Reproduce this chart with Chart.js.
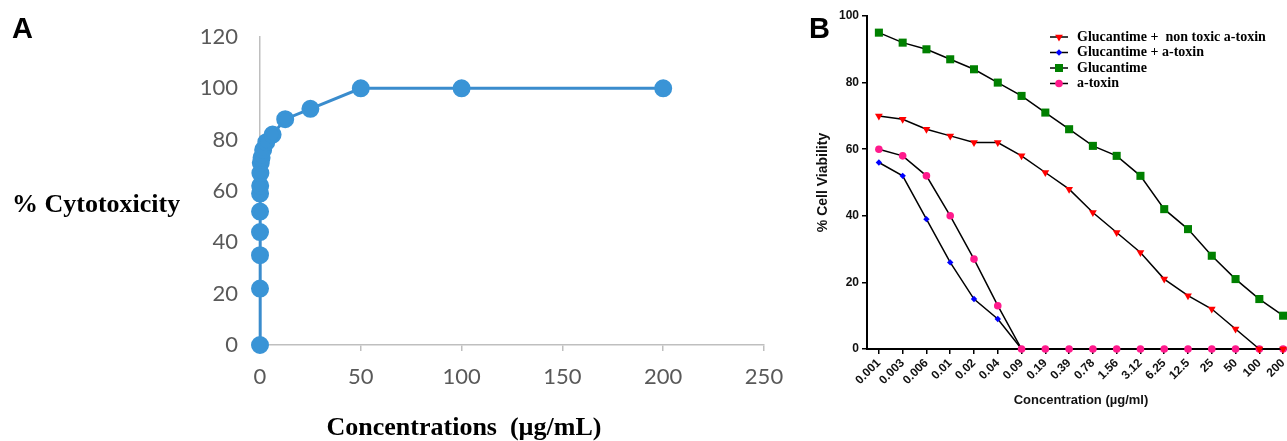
<!DOCTYPE html>
<html>
<head>
<meta charset="utf-8">
<script src="https://cdn.jsdelivr.net/npm/chart.js@4.4.1/dist/chart.umd.min.js"></script>
<style>
  html, body { margin: 0; padding: 0; background: #fff; overflow: hidden; width: 1287px; height: 441px; }
  canvas { position: absolute; top: 0; }
  #chartA { left: 0; }
  #chartB { left: 790px; }
</style>
</head>
<body>
<canvas id="chartA" width="800" height="441"></canvas>
<canvas id="chartB" width="520" height="441"></canvas>
<script>
// concentrations (ug/ml)
const concLabels = ['0.001', '0.003', '0.006', '0.01', '0.02', '0.04', '0.09', '0.19', '0.39', '0.78', '1.56', '3.12', '6.25', '12.5', '25', '50', '100', '200'];
const concValues = [0.001, 0.003, 0.006, 0.01, 0.02, 0.04, 0.09, 0.19, 0.39, 0.78, 1.56, 3.12, 6.25, 12.5, 25, 50, 100, 200];

// panel A
const cytotoxicity = [0, 22, 35, 44, 52, 59, 62, 67, 71, 73, 76, 79, 82, 88, 92, 100, 100, 100];

// panel B
const viabNonToxic = [70, 69, 66, 64, 62, 62, 58, 53, 48, 41, 35, 29, 21, 16, 12, 6, 0, 0];
const viabGlucAtoxin = [56, 52, 39, 26, 15, 9, 0, 0, 0, 0, 0, 0, 0, 0, 0, 0, 0, 0];
const viabGlucantime = [95, 92, 90, 87, 84, 80, 76, 71, 66, 61, 58, 52, 42, 36, 28, 21, 15, 10];
const viabAtoxin = [60, 58, 52, 40, 27, 13, 0, 0, 0, 0, 0, 0, 0, 0, 0, 0, 0, 0];
const seriesNames = ['Glucantime +  non toxic a-toxin', 'Glucantime + a-toxin', 'Glucantime', 'a-toxin'];

const sans = "'Liberation Sans', Arial, sans-serif";
const serif = "'Liberation Serif', 'Times New Roman', serif";

// draws free text (panel letters, horizontal titles)
function textPlugin(items) {
  return {
    id: 'freeText',
    afterDraw(chart) {
      const ctx = chart.ctx;
      ctx.save();
      items.forEach(t => {
        ctx.font = t.font;
        ctx.fillStyle = t.color || '#000';
        ctx.textAlign = t.align || 'left';
        ctx.textBaseline = 'alphabetic';
        ctx.fillText(t.text, t.x, t.y);
      });
      ctx.restore();
    }
  };
}

const chartA = document.getElementById('chartA');
new Chart(chartA, {
  type: 'line',
  data: {
    datasets: [{
      data: concValues.map((c, i) => ({x: c, y: cytotoxicity[i]})),
      borderColor: '#3a8ccd',
      backgroundColor: '#3a94d6',
      pointBackgroundColor: '#3a94d6',
      pointBorderColor: '#3a94d6',
      borderWidth: 3,
      pointRadius: 7.5,
      pointHoverRadius: 7.5,
      tension: 0,
      clip: false
    }]
  },
  options: {
    responsive: false,
    animation: false,
    devicePixelRatio: 1,
    layout: { padding: { top: 37, right: 36, bottom: 56, left: 0 } },
    plugins: { legend: { display: false }, tooltip: { enabled: false } },
    scales: {
      x: {
        type: 'linear', min: 0, max: 250,
        ticks: { stepSize: 50, color: '#595959', padding: 13, font: { family: 'Lato', size: 22 } },
        grid: { display: true, drawOnChartArea: false, drawTicks: true, tickLength: 6, color: '#bfbfbf', lineWidth: 1.5 },
        border: { display: true, color: '#bfbfbf', width: 1.5 },
        afterFit(s) { s.height = 40; }
      },
      y: {
        min: 0, max: 120,
        ticks: { stepSize: 20, color: '#595959', padding: 22, font: { family: 'Lato', size: 22 } },
        grid: { display: false, drawTicks: false },
        border: { display: true, color: '#bfbfbf', width: 1.5 },
        afterFit(s) { s.width = 260; }
      }
    }
  },
  plugins: [textPlugin([
    { text: 'A', x: 12, y: 38, font: 'bold 29px ' + sans },
    { text: '% Cytotoxicity', x: 12, y: 212, font: 'bold 26px ' + serif },
    { text: 'Concentrations  (µg/mL)', x: 464, y: 435, align: 'center', font: 'bold 26px ' + serif }
  ])]
});

// legend for panel B: short line + marker + label
const legendB = {
  id: 'legendB',
  afterDraw(chart) {
    const ctx = chart.ctx;
    const rows = [37, 52.5, 68, 83.5];
    ctx.save();
    chart.data.datasets.forEach((ds, i) => {
      const y = rows[i];
      ctx.strokeStyle = '#000';
      ctx.lineWidth = 1.5;
      ctx.beginPath();
      ctx.moveTo(260, y);
      ctx.lineTo(278, y);
      ctx.stroke();
      ctx.fillStyle = ds.pointBackgroundColor;
      ctx.strokeStyle = ds.pointBackgroundColor;
      Chart.helpers.drawPoint(ctx, { pointStyle: ds.pointStyle, rotation: ds.pointRotation || 0, radius: ds.pointRadius, borderWidth: 0 }, 269, y);
      ctx.fillStyle = '#000';
      ctx.font = 'bold 14px ' + serif;
      ctx.textAlign = 'left';
      ctx.textBaseline = 'middle';
      ctx.fillText(seriesNames[i], 287, y);
    });
    ctx.restore();
  }
};

function seriesB(values, color, style, radius, rotation, order) {
  return {
    data: values,
    borderColor: '#000',
    borderWidth: 1.5,
    pointBackgroundColor: color,
    pointBorderColor: color,
    pointBorderWidth: 0,
    pointStyle: style,
    pointRotation: rotation,
    pointRadius: radius,
    pointHoverRadius: radius,
    tension: 0,
    clip: false,
    order: order
  };
}

const chartB = document.getElementById('chartB');
new Chart(chartB, {
  type: 'line',
  data: {
    labels: concLabels,
    datasets: [
      seriesB(viabNonToxic, '#ff0000', 'triangle', 4.5, 180, 0),
      seriesB(viabGlucAtoxin, '#0000ff', 'rectRot', 3.2, 0, 2),
      seriesB(viabGlucantime, '#008000', 'rect', 5.7, 0, 3),
      seriesB(viabAtoxin, '#ff1a8c', 'circle', 3.8, 0, 1)
    ]
  },
  options: {
    responsive: false,
    animation: false,
    devicePixelRatio: 1,
    layout: { padding: { top: 16, right: 15, bottom: 0, left: 0 } },
    plugins: { legend: { display: false }, tooltip: { enabled: false } },
    scales: {
      x: {
        type: 'category', offset: true,
        ticks: { color: '#111', padding: 2, minRotation: 45, maxRotation: 45, autoSkip: false, font: { family: sans, size: 12, weight: 'bold' } },
        grid: { display: true, offset: false, drawOnChartArea: false, drawTicks: true, tickLength: 5, color: '#000', lineWidth: 1.5 },
        border: { display: true, color: '#000', width: 2 },
        title: { display: true, text: 'Concentration (µg/ml)', color: '#111', font: { family: sans, size: 13, weight: 'bold' }, padding: { top: 4, bottom: 33 } },
        afterFit(s) { s.height = 92; }
      },
      y: {
        min: 0, max: 100,
        ticks: { stepSize: 20, color: '#111', padding: 3, font: { family: sans, size: 12, weight: 'bold' } },
        grid: { display: true, drawOnChartArea: false, drawTicks: true, tickLength: 5, color: '#000', lineWidth: 1.5 },
        border: { display: true, color: '#000', width: 2 },
        title: { display: true, text: '% Cell Viability', color: '#111', font: { family: sans, size: 14, weight: 'bold' }, padding: { top: 25, bottom: 4 } },
        afterFit(s) { s.width = 77; }
      }
    }
  },
  plugins: [legendB, textPlugin([
    { text: 'B', x: 19, y: 38, font: 'bold 29px ' + sans }
  ])]
});
</script>
</body>
</html>
